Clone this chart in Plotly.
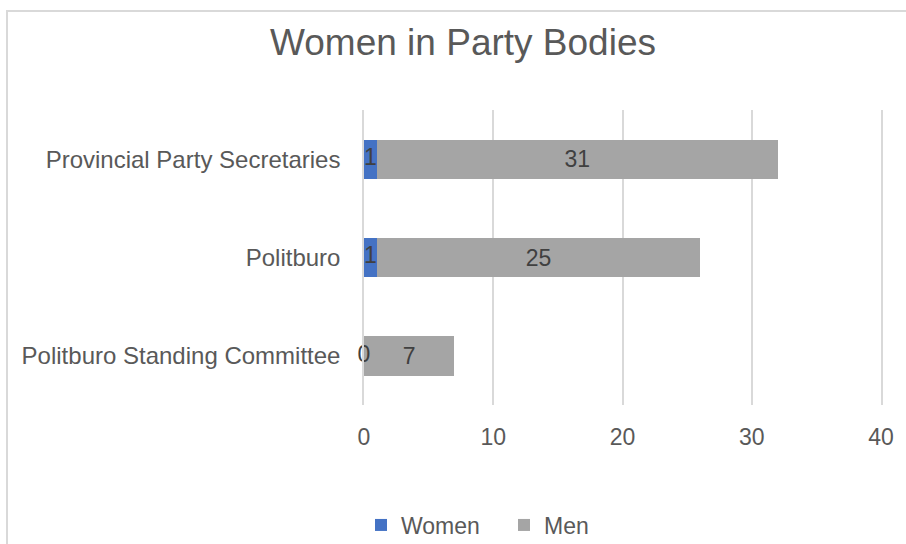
import plotly.graph_objects as go

categories = ["Provincial Party Secretaries", "Politburo", "Politburo Standing Committee"]
women = [1, 1, 0]
men = [31, 25, 7]
x_ticks = [0, 10, 20, 30, 40]

FONT = "Liberation Sans, Arial, sans-serif"
TXT = "#595959"
LBL = "#404040"
GRID = "#D9D9D9"

fig = go.Figure()
fig.add_trace(go.Bar(
    y=categories, x=women, name="Women", orientation="h",
    marker=dict(color="#4472C4", line=dict(width=0)),
    hoverinfo="skip",
))
fig.add_trace(go.Bar(
    y=categories, x=men, name="Men", orientation="h",
    marker=dict(color="#A5A5A5", line=dict(width=0)),
    text=[str(v) for v in men], textposition="inside", insidetextanchor="middle",
    textfont=dict(family=FONT, size=23, color=LBL), constraintext="none",
    hoverinfo="skip",
))
# women labels centred on their segments
fig.add_trace(go.Scatter(
    y=categories, x=[w / 2 for w in women], mode="text",
    text=[str(v) for v in women], textposition="middle center",
    textfont=dict(family=FONT, size=23, color=LBL),
    showlegend=False, hoverinfo="skip", cliponaxis=False,
))

fig.update_layout(
    width=906, height=544,
    barmode="stack", bargap=0.6,
    plot_bgcolor="white", paper_bgcolor="white",
    margin=dict(l=364, r=25, t=110, b=139),
    font=dict(family=FONT, color=TXT, size=23),
    title=dict(text="Women in Party Bodies", x=463 / 906, xanchor="center",
               xref="container", yref="container", y=1 - 42 / 544, yanchor="middle",
               font=dict(family=FONT, size=37, color=TXT)),
    xaxis=dict(range=[0, 40], tickvals=x_ticks, ticktext=[str(t) for t in x_ticks],
               showgrid=True, gridcolor=GRID, gridwidth=1.5,
               zeroline=False, showline=False, ticks="",
               ticklabelstandoff=16,
               tickfont=dict(family=FONT, size=23, color=TXT), fixedrange=True),
    yaxis=dict(categoryorder="array", categoryarray=categories[::-1],
               showgrid=False, zeroline=False, ticks="",
               showline=True, linecolor=GRID, linewidth=1.5, mirror=True,
               ticklabelstandoff=17,
               tickfont=dict(family=FONT, size=24, color=TXT), fixedrange=True),
    legend=dict(orientation="h", xref="container", yref="container",
                x=361 / 906, xanchor="left", y=19 / 544, yanchor="middle",
                font=dict(family=FONT, size=23, color=TXT),
                entrywidth=98, traceorder="normal", itemclick=False),
    shapes=[dict(type="rect", xref="paper", yref="paper",
                 x0=(7 - 364) / 517, x1=(930 - 364) / 517,
                 y0=(405 - 570) / 295, y1=(405 - 11) / 295,
                 line=dict(color=GRID, width=2), fillcolor="rgba(0,0,0,0)",
                 layer="below")],
)

fig.write_html("out.html", config={"displayModeBar": False},
               post_script="document.body.style.margin='0';document.body.style.overflow='hidden';")
